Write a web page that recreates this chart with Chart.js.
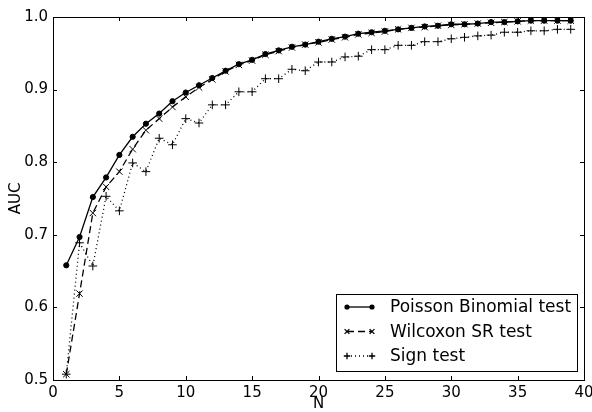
<!DOCTYPE html>
<html>
<head>
<meta charset="utf-8">
<script src="https://cdn.jsdelivr.net/npm/chart.js@4/dist/chart.umd.min.js"></script>
<style>
  html, body { margin: 0; padding: 0; background: #fff; }
  #wrap { width: 592px; height: 412px; }
</style>
</head>
<body>
<div id="wrap"><canvas id="chart" width="592" height="412"></canvas></div>
<script>
// ---- data ----
const nValues = [1,2,3,4,5,6,7,8,9,10,11,12,13,14,15,16,17,18,19,20,
  21,22,23,24,25,26,27,28,29,30,31,32,33,34,35,36,37,38,39];

const poissonAuc = [0.658,0.697,0.752,0.779,0.810,0.835,0.853,0.867,0.884,0.896,
  0.906,0.916,0.926,0.935,0.941,0.949,0.954,0.959,0.962,0.966,
  0.970,0.973,0.977,0.979,0.981,0.983,0.985,0.987,0.988,0.990,
  0.990,0.991,0.993,0.993,0.994,0.995,0.995,0.995,0.995];

const wilcoxonAuc = [0.508,0.619,0.730,0.766,0.787,0.818,0.844,0.860,0.876,0.890,
  0.903,0.914,0.925,0.934,0.940,0.948,0.953,0.958,0.962,0.965,
  0.969,0.972,0.976,0.978,0.980,0.983,0.985,0.986,0.988,0.989,
  0.990,0.991,0.992,0.993,0.994,0.995,0.995,0.995,0.995];

const signAuc = [0.508,0.689,0.657,0.753,0.733,0.799,0.787,0.833,0.824,0.860,
  0.854,0.879,0.879,0.897,0.897,0.915,0.915,0.928,0.926,0.938,
  0.938,0.945,0.946,0.955,0.955,0.961,0.961,0.966,0.966,0.970,
  0.972,0.974,0.975,0.979,0.979,0.981,0.981,0.983,0.983];

const seriesNames = ["Poisson Binomial test", "Wilcoxon SR test", "Sign test"];
const xTicks = [0, 5, 10, 15, 20, 25, 30, 35, 40];
const yTicks = [0.5, 0.6, 0.7, 0.8, 0.9, 1.0];

const toPoints = (ys) => ys.map((y, i) => ({ x: nValues[i], y }));
const FONT = "'DejaVu Sans', sans-serif";

/* frame + inward tick marks, like matplotlib */
const framePlugin = {
  id: "frame",
  afterDatasetsDraw(chart) {
    const { ctx, chartArea: a, scales } = chart;
    ctx.save();
    ctx.strokeStyle = "#000";
    ctx.lineWidth = 1;
    ctx.beginPath();
    xTicks.forEach((v) => {
      const px = Math.round(scales.x.getPixelForValue(v)) + 0.5;
      ctx.moveTo(px, a.bottom); ctx.lineTo(px, a.bottom - 4);
      ctx.moveTo(px, a.top); ctx.lineTo(px, a.top + 4);
    });
    yTicks.forEach((v) => {
      const py = Math.round(scales.y.getPixelForValue(v)) + 0.5;
      ctx.moveTo(a.left, py); ctx.lineTo(a.left + 4, py);
      ctx.moveTo(a.right, py); ctx.lineTo(a.right - 4, py);
    });
    ctx.stroke();
    ctx.strokeRect(Math.round(a.left) + 0.5, Math.round(a.top) + 0.5,
      Math.round(a.right - a.left), Math.round(a.bottom - a.top));
    ctx.restore();
  }
};

/* boxed legend in lower right of the plot */
const legendPlugin = {
  id: "boxLegend",
  afterDraw(chart) {
    const { ctx, chartArea: a } = chart;
    const box = { x: a.right - 248, y: a.bottom - 86, w: 241, h: 77 };
    ctx.save();
    ctx.fillStyle = "#fff";
    ctx.fillRect(box.x, box.y, box.w, box.h);
    ctx.strokeStyle = "#000";
    ctx.lineWidth = 1;
    ctx.strokeRect(Math.round(box.x) + 0.5, Math.round(box.y) + 0.5, box.w, box.h);
    chart.data.datasets.forEach((ds, i) => {
      const cy = box.y + 13 + i * 24.5;
      const x0 = box.x + 11, x1 = box.x + 36;
      ctx.strokeStyle = "#000";
      ctx.lineWidth = ds.borderWidth;
      ctx.setLineDash(ds.borderDash || []);
      ctx.beginPath();
      ctx.moveTo(x0, cy); ctx.lineTo(x1, cy);
      ctx.stroke();
      ctx.setLineDash([]);
      const pOpts = { pointStyle: ds.pointStyle, radius: ds.pointRadius * 0.75,
        rotation: 0, borderWidth: 1 };
      ctx.fillStyle = "#000";
      Chart.helpers.drawPoint(ctx, pOpts, x0, cy);
      Chart.helpers.drawPoint(ctx, pOpts, x1, cy);
      ctx.fillStyle = "#000";
      ctx.font = "17px " + FONT;
      ctx.textBaseline = "middle";
      ctx.textAlign = "left";
      ctx.fillText(ds.label, box.x + 54, cy + 1);
    });
    ctx.restore();
  }
};

new Chart(document.getElementById("chart"), {
  type: "line",
  data: {
    datasets: [
      {
        label: seriesNames[0],
        data: toPoints(poissonAuc),
        borderColor: "#000",
        backgroundColor: "#000",
        borderWidth: 1.3,
        pointStyle: "circle",
        pointRadius: 2.6,
        pointBorderWidth: 1
      },
      {
        label: seriesNames[1],
        data: toPoints(wilcoxonAuc),
        borderColor: "#000",
        backgroundColor: "#000",
        borderWidth: 1.3,
        borderDash: [7, 4],
        pointStyle: "crossRot",
        pointRadius: 4.5,
        pointBorderWidth: 1
      },
      {
        label: seriesNames[2],
        data: toPoints(signAuc),
        borderColor: "#000",
        backgroundColor: "#000",
        borderWidth: 1.3,
        borderDash: [1, 3],
        pointStyle: "cross",
        pointRadius: 4.3,
        pointBorderWidth: 1
      }
    ]
  },
  options: {
    responsive: false,
    animation: false,
    layout: { padding: { top: 17, right: 8, left: 0, bottom: 0 } },
    plugins: {
      legend: { display: false },
      tooltip: { enabled: false }
    },
    scales: {
      x: {
        type: "linear",
        min: 0,
        max: 40,
        afterFit(scale) {
          scale.height = 32;
          scale.paddingLeft = 0;
          scale.paddingRight = 0;
        },
        afterBuildTicks(scale) { scale.ticks = xTicks.map((v) => ({ value: v })); },
        grid: { display: false, drawTicks: false },
        border: { display: false },
        ticks: {
          color: "#000",
          padding: 4,
          maxRotation: 0,
          font: { family: FONT, size: 15 }
        },
        title: {
          display: true,
          text: "N",
          color: "#000",
          padding: { top: 0, bottom: 0 },
          font: { family: FONT, size: 15, lineHeight: 1.0 }
        }
      },
      y: {
        type: "linear",
        min: 0.5,
        max: 1.0,
        afterFit(scale) {
          scale.width = 53;
          scale.paddingTop = 0;
          scale.paddingBottom = 0;
        },
        afterBuildTicks(scale) { scale.ticks = yTicks.map((v) => ({ value: v })); },
        grid: { display: false, drawTicks: false },
        border: { display: false },
        ticks: {
          color: "#000",
          padding: 5,
          font: { family: FONT, size: 15 },
          callback: (v) => v.toFixed(1)
        },
        title: {
          display: true,
          text: "AUC",
          color: "#000",
          padding: { top: 7, bottom: 0 },
          font: { family: FONT, size: 15 }
        }
      }
    }
  },
  plugins: [framePlugin, legendPlugin]
});
</script>
</body>
</html>
